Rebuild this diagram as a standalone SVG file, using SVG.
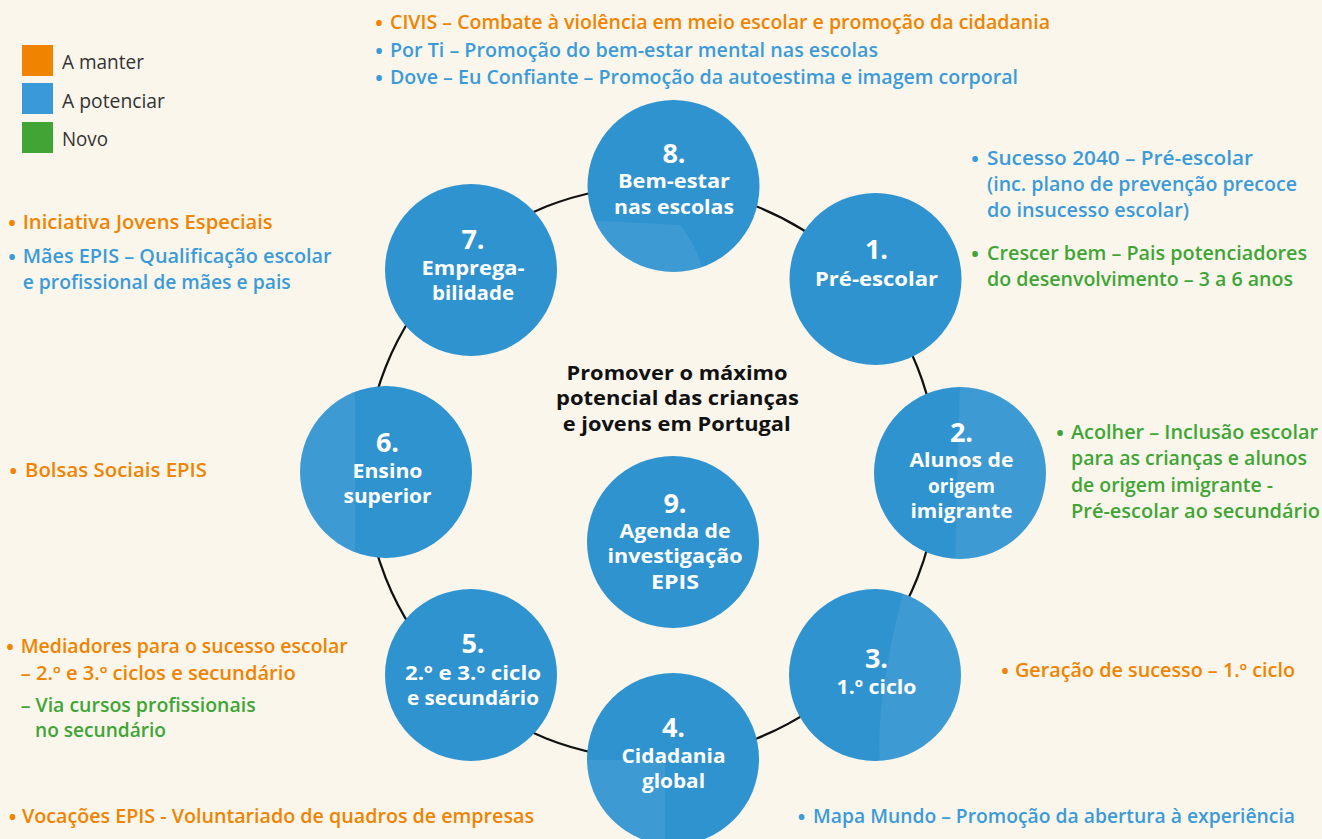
<svg xmlns="http://www.w3.org/2000/svg" width="1322" height="839" viewBox="0 0 1322 839">
<style>
.bg{fill:#faf6ec}
.node{fill:#2f93d0}
.tex{fill:#fff;opacity:0.07}
.ring{fill:none;stroke:#111;stroke-width:2.2}
.t{font-family:"Open Sans","Liberation Sans",sans-serif;font-size:19px;font-weight:600}
.o{fill:#f08300}
.b{fill:#3b9bd9}
.g{fill:#40a535}
.bul{font-family:"Open Sans","Liberation Sans",sans-serif;font-size:20px;font-weight:700;text-anchor:middle}
.leg{font-family:"Open Sans","Liberation Sans",sans-serif;font-size:20px;font-weight:400;fill:#333}
.num{font-family:"Open Sans","Liberation Sans",sans-serif;font-size:27px;font-weight:700;fill:#fff;text-anchor:middle}
.lab{font-family:"Open Sans","Liberation Sans",sans-serif;font-size:20px;font-weight:700;fill:#fff;text-anchor:middle}
.ctr{font-family:"Open Sans","Liberation Sans",sans-serif;font-size:20px;font-weight:700;fill:#111;text-anchor:middle}
</style>
<defs>
<clipPath id="c8"><circle cx="673.5" cy="186" r="86"/></clipPath>
<clipPath id="c3"><circle cx="875" cy="675" r="86"/></clipPath>
<clipPath id="c4"><circle cx="673" cy="759" r="86"/></clipPath>
<clipPath id="c6"><circle cx="386" cy="472" r="86"/></clipPath>
<clipPath id="c2"><circle cx="960" cy="473" r="86"/></clipPath>
</defs>
<rect class="bg" x="0" y="0" width="1322" height="839"/>

<g id="legend">
<rect x="22" y="45" width="31" height="31" fill="#f08300"/>
<rect x="22" y="83" width="31" height="31" fill="#3a9ad9"/>
<rect x="22" y="122" width="31" height="31" fill="#40a535"/>
<text class="leg" x="62" y="69" textLength="82" lengthAdjust="spacingAndGlyphs">A manter</text>
<text class="leg" x="62" y="107.5" textLength="103" lengthAdjust="spacingAndGlyphs">A potenciar</text>
<text class="leg" x="62" y="146" textLength="46" lengthAdjust="spacingAndGlyphs">Novo</text>
</g>

<g id="connectors">
<circle class="ring" cx="651.5" cy="472.5" r="286"/>
</g>

<g id="node8">
<circle class="node" cx="673.5" cy="186" r="86"/>
<path class="tex" clip-path="url(#c8)" d="M580,220 L680,225 Q700,250 705,280 L580,280 Z"/>
<text class="num" x="674" y="162.7">8.</text>
<text class="lab" x="674" y="188.3" textLength="112" lengthAdjust="spacingAndGlyphs">Bem-estar</text>
<text class="lab" x="674" y="214" textLength="120" lengthAdjust="spacingAndGlyphs">nas escolas</text>
</g>
<g id="node1">
<circle class="node" cx="875.5" cy="279" r="86"/>
<text class="num" x="876.5" y="259">1.</text>
<text class="lab" x="876.5" y="285.5" textLength="123" lengthAdjust="spacingAndGlyphs">Pré-escolar</text>
</g>
<g id="node2">
<circle class="node" cx="960" cy="473" r="86"/>
<path class="tex" clip-path="url(#c2)" d="M960,380 L1050,380 L1050,570 L955,570 Z"/>
<text class="num" x="961.5" y="441.7">2.</text>
<text class="lab" x="961.5" y="467.3" textLength="104" lengthAdjust="spacingAndGlyphs">Alunos de</text>
<text class="lab" x="961.5" y="492.7" textLength="67" lengthAdjust="spacingAndGlyphs">origem</text>
<text class="lab" x="961.5" y="518.3" textLength="102" lengthAdjust="spacingAndGlyphs">imigrante</text>
</g>
<g id="node3">
<circle class="node" cx="875" cy="675" r="86"/>
<path class="tex" clip-path="url(#c3)" d="M905,585 L965,585 L965,765 L880,765 Q875,700 905,585 Z"/>
<text class="num" x="876.5" y="667.5">3.</text>
<text class="lab" x="876.5" y="694" textLength="80" lengthAdjust="spacingAndGlyphs">1.º ciclo</text>
</g>
<g id="node4">
<circle class="node" cx="673" cy="759" r="86"/>
<path class="tex" clip-path="url(#c4)" d="M585,760 L665,760 L665,850 L585,850 Z"/>
<text class="num" x="673.5" y="736.7">4.</text>
<text class="lab" x="673.5" y="762.7" textLength="104" lengthAdjust="spacingAndGlyphs">Cidadania</text>
<text class="lab" x="673.5" y="788.3" textLength="63" lengthAdjust="spacingAndGlyphs">global</text>
</g>
<g id="node5">
<circle class="node" cx="471" cy="675" r="86"/>
<text class="num" x="473" y="653.3">5.</text>
<text class="lab" x="473" y="680" textLength="136" lengthAdjust="spacingAndGlyphs">2.º e 3.º ciclo</text>
<text class="lab" x="473" y="705" textLength="132" lengthAdjust="spacingAndGlyphs">e secundário</text>
</g>
<g id="node6">
<circle class="node" cx="386" cy="472" r="86"/>
<path class="tex" clip-path="url(#c6)" d="M295,380 L355,380 L355,565 L295,565 Z"/>
<text class="num" x="387.5" y="451.7">6.</text>
<text class="lab" x="387.5" y="477.7" textLength="70" lengthAdjust="spacingAndGlyphs">Ensino</text>
<text class="lab" x="387.5" y="502.7" textLength="88" lengthAdjust="spacingAndGlyphs">superior</text>
</g>
<g id="node7">
<circle class="node" cx="471" cy="270" r="86"/>
<text class="num" x="473" y="249.3">7.</text>
<text class="lab" x="473" y="275" textLength="103" lengthAdjust="spacingAndGlyphs">Emprega-</text>
<text class="lab" x="473" y="300" textLength="82" lengthAdjust="spacingAndGlyphs">bilidade</text>
</g>
<g id="node9">
<circle class="node" cx="673" cy="542" r="86"/>
<text class="num" x="675" y="512.7">9.</text>
<text class="lab" x="675" y="538.3" textLength="111" lengthAdjust="spacingAndGlyphs">Agenda de</text>
<text class="lab" x="675" y="562.7" textLength="135" lengthAdjust="spacingAndGlyphs">investigação</text>
<text class="lab" x="675" y="589.3" textLength="48" lengthAdjust="spacingAndGlyphs">EPIS</text>
</g>

<g id="center">
<text class="ctr" x="677" y="380" textLength="221" lengthAdjust="spacingAndGlyphs">Promover o máximo</text>
<text class="ctr" x="677.5" y="405" textLength="243" lengthAdjust="spacingAndGlyphs">potencial das crianças</text>
<text class="ctr" x="676.7" y="430.7" textLength="228" lengthAdjust="spacingAndGlyphs">e jovens em Portugal</text>
</g>

<g id="list-top">
<text class="bul o" x="379" y="30">•</text>
<text class="t o" x="390" y="29" textLength="660" lengthAdjust="spacingAndGlyphs">CIVIS – Combate à violência em meio escolar e promoção da cidadania</text>
<text class="bul b" x="379" y="57.5">•</text>
<text class="t b" x="390" y="56.5" textLength="488" lengthAdjust="spacingAndGlyphs">Por Ti – Promoção do bem-estar mental nas escolas</text>
<text class="bul b" x="379" y="85">•</text>
<text class="t b" x="390" y="84" textLength="628" lengthAdjust="spacingAndGlyphs">Dove – Eu Confiante – Promoção da autoestima e imagem corporal</text>
</g>

<g id="list-1">
<text class="bul b" x="975" y="166">•</text>
<text class="t b" x="987" y="165" textLength="266" lengthAdjust="spacingAndGlyphs">Sucesso 2040 – Pré-escolar</text>
<text class="t b" x="987" y="191" textLength="310" lengthAdjust="spacingAndGlyphs">(inc. plano de prevenção precoce</text>
<text class="t b" x="987" y="216.5" textLength="202" lengthAdjust="spacingAndGlyphs">do insucesso escolar)</text>
<text class="bul g" x="975" y="261">•</text>
<text class="t g" x="987" y="260" textLength="320" lengthAdjust="spacingAndGlyphs">Crescer bem – Pais potenciadores</text>
<text class="t g" x="987" y="286" textLength="306" lengthAdjust="spacingAndGlyphs">do desenvolvimento – 3 a 6 anos</text>
</g>

<g id="list-2">
<text class="bul g" x="1060" y="439.5">•</text>
<text class="t g" x="1071" y="438.5" textLength="247" lengthAdjust="spacingAndGlyphs">Acolher – Inclusão escolar</text>
<text class="t g" x="1071" y="465" textLength="236" lengthAdjust="spacingAndGlyphs">para as crianças e alunos</text>
<text class="t g" x="1071" y="491.5" textLength="202" lengthAdjust="spacingAndGlyphs">de origem imigrante -</text>
<text class="t g" x="1071" y="518" textLength="249" lengthAdjust="spacingAndGlyphs">Pré-escolar ao secundário</text>
</g>

<g id="list-3">
<text class="bul o" x="1005" y="678">•</text>
<text class="t o" x="1015" y="677" textLength="280" lengthAdjust="spacingAndGlyphs">Geração de sucesso – 1.º ciclo</text>
</g>

<g id="list-4">
<text class="bul b" x="801.5" y="824">•</text>
<text class="t b" x="813" y="823" textLength="482" lengthAdjust="spacingAndGlyphs">Mapa Mundo – Promoção da abertura à experiência</text>
</g>

<g id="list-7">
<text class="bul o" x="12" y="230">•</text>
<text class="t o" x="22.7" y="229" textLength="250" lengthAdjust="spacingAndGlyphs">Iniciativa Jovens Especiais</text>
<text class="bul b" x="12" y="263.5">•</text>
<text class="t b" x="22.7" y="262.5" textLength="309" lengthAdjust="spacingAndGlyphs">Mães EPIS – Qualificação escolar</text>
<text class="t b" x="22.7" y="289" textLength="268" lengthAdjust="spacingAndGlyphs">e profissional de mães e pais</text>
</g>

<g id="list-6">
<text class="bul o" x="13.3" y="477.5">•</text>
<text class="t o" x="25" y="476.5" textLength="182" lengthAdjust="spacingAndGlyphs">Bolsas Sociais EPIS</text>
</g>

<g id="list-5">
<text class="bul o" x="10" y="654">•</text>
<text class="t o" x="20.7" y="653" textLength="327" lengthAdjust="spacingAndGlyphs">Mediadores para o sucesso escolar</text>
<text class="t o" x="20.7" y="680" textLength="275" lengthAdjust="spacingAndGlyphs">– 2.º e 3.º ciclos e secundário</text>
<text class="t g" x="20.7" y="711.5" textLength="235" lengthAdjust="spacingAndGlyphs">– Via cursos profissionais</text>
<text class="t g" x="35" y="736.5" textLength="131" lengthAdjust="spacingAndGlyphs">no secundário</text>
</g>

<g id="list-bottom-left">
<text class="bul o" x="12.5" y="824">•</text>
<text class="t o" x="22" y="823" textLength="512" lengthAdjust="spacingAndGlyphs">Vocações EPIS - Voluntariado de quadros de empresas</text>
</g>
</svg>
